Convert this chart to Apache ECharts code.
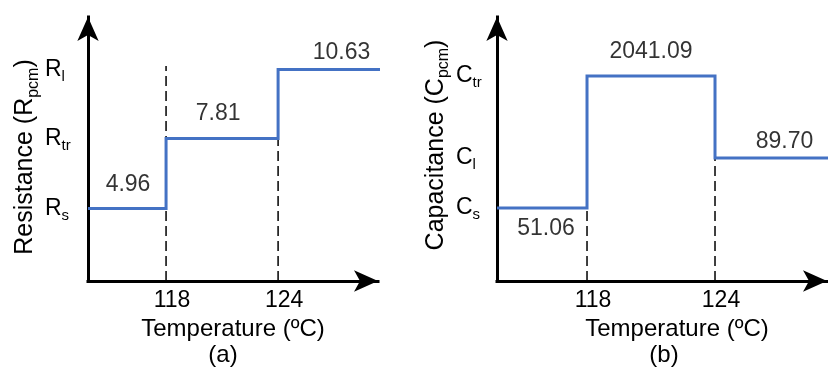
<!DOCTYPE html>
<html><head><meta charset="utf-8">
<script src="https://cdn.jsdelivr.net/npm/echarts@6/dist/echarts.min.js"></script>
<style>html,body{margin:0;padding:0;background:#fff}#c{width:828px;height:372px}</style>
</head><body><div id="c"></div>
<script>
// ---------- Panel (a): resistance ----------
const resTransitionTemps = [118, 124];
const resValues = [4.96, 7.81, 10.63];
const resValueLabels = ['4.96', '7.81', '10.63'];
const resLevelSubs = ['s', 'tr', 'l'];
const resDashTops = [10.77, 7.81];
const resLineEnd = 129.62;
// ---------- Panel (b): capacitance (schematic levels, not to scale) ----------
const capTransitionTemps = [118, 124];
const capValues = [51.06, 2041.09, 89.70];
const capValueLabels = ['51.06', '2041.09', '89.70'];
const capLevels = [4.98, 10.36, 7.02];
const capLevelSubs = ['s', 'tr', 'l'];
const capDashTops = [10.57, 7.02];
const capLineEnd = 130.5;
const tickLabels = ['118', '124'];

const FONT = '"Liberation Sans", Arial, sans-serif';
const BLUE = '#4472C4';
const RANGE_A = {xmin: 113.82, xmax: 129.35, ymin: 2, ymax: 12.77};
const RANGE_B = {xmin: 113.78, xmax: 129.25, ymin: 2, ymax: 12.77};

function stepPoints(xMin, xEnd, temps, levels) {
  const pts = [[xMin, levels[0]]];
  temps.forEach((t, i) => { pts.push([t, levels[i]]); pts.push([t, levels[i + 1]]); });
  pts.push([xEnd, levels[levels.length - 1]]);
  return pts;
}
function segMids(xMin, xEnd, temps) {
  const s = [xMin].concat(temps), e = temps.concat([xEnd]);
  return s.map((v, i) => (v + e[i]) / 2);
}
const rich = {
  m: {fontSize: 23, lineHeight: 23, fontFamily: FONT, color: '#000', verticalAlign: 'top'},
  s: {fontSize: 15, lineHeight: 15, fontFamily: FONT, color: '#000', verticalAlign: 'top', padding: [11, 0, 0, 0]}
};
const nameRich = {
  m: {fontSize: 25, lineHeight: 25, fontFamily: FONT, color: '#000', verticalAlign: 'top'},
  s: {fontSize: 16, lineHeight: 16, fontFamily: FONT, color: '#000', verticalAlign: 'top', padding: [12, 0, 0, 0]}
};
const axisLineStyle = {show: true, symbol: ['none', 'arrow'], symbolSize: [16, 24],
  lineStyle: {color: '#000', width: 3, cap: 'square'}};

function xAxisFor(gridIndex, range, temps, nameShift) {
  return {
    type: 'value', gridIndex, min: range.xmin, max: range.xmax,
    axisLine: axisLineStyle, axisTick: {show: false}, splitLine: {show: false},
    axisLabel: {customValues: temps, formatter: v => tickLabels[temps.indexOf(v)],
      fontSize: 23, fontFamily: FONT, color: '#000', margin: 8, padding: [0, 0, 0, 12]},
    name: 'Temperature (ºC)', nameLocation: 'middle', nameGap: 32,
    nameTextStyle: {fontSize: 24, fontFamily: FONT, color: '#000', padding: nameShift}
  };
}
function yAxisFor(gridIndex, range, levels, subs, letter, nameText, margin, namePad) {
  return {
    type: 'value', gridIndex, min: range.ymin, max: range.ymax,
    axisLine: axisLineStyle, axisTick: {show: false}, splitLine: {show: false},
    axisLabel: {customValues: levels.slice(), align: 'left', margin,
      formatter: v => '{m|' + letter + '}{s|' + subs[levels.indexOf(v)] + '}', rich},
    name: '{m|' + nameText + ' (' + letter + '}{s|pcm}{m|)}', nameLocation: 'middle', nameGap: 48,
    nameTextStyle: {rich: nameRich, padding: namePad}
  };
}
function dashSeries(xi, temps, tops, ymin) {
  return temps.map((t, i) => ({
    type: 'line', xAxisIndex: xi, yAxisIndex: xi, data: [[t, ymin], [t, tops[i]]],
    symbol: 'none', silent: true, z: 1, clip: false,
    lineStyle: {color: '#000', width: 1.5, type: [10, 5]}
  }));
}
function labelSeries(xi, mids, levels, texts, cfg) {
  return {
    type: 'scatter', xAxisIndex: xi, yAxisIndex: xi, symbolSize: 0, z: 5, clip: false, silent: true,
    data: mids.map((x, i) => ({value: [x, levels[i]], label: {show: true, formatter: texts[i],
      position: cfg[i].pos, distance: cfg[i].d, offset: [cfg[i].dx, 0],
      fontSize: 23, fontFamily: FONT, color: '#000'}}))
  };
}
const resLabelCfg = [{pos: 'top', d: 12, dx: 1}, {pos: 'top', d: 13, dx: -4}, {pos: 'top', d: 5, dx: 11}];
const capLabelCfg = [{pos: 'bottom', d: 9, dx: 4}, {pos: 'top', d: 13, dx: 0}, {pos: 'top', d: 5, dx: 13}];
const capTxt = {fontSize: 24, fontFamily: FONT, fill: '#000', align: 'center', verticalAlign: 'middle'};

const chart = echarts.init(document.getElementById('c'), null, {renderer: 'canvas'});
chart.setOption({
  backgroundColor: '#fff',
  animation: false,
  grid: [
    {left: 88, top: 17, width: 290, height: 264},
    {left: 497, top: 17, width: 330, height: 264}
  ],
  xAxis: [xAxisFor(0, RANGE_A, resTransitionTemps, [0, 0, 0, 0]), xAxisFor(1, RANGE_B, capTransitionTemps, [0, 0, 0, 30])],
  yAxis: [yAxisFor(0, RANGE_A, resValues, resLevelSubs, 'R', 'Resistance', 43, [0, 16, 0, 0]),
          yAxisFor(1, RANGE_B, capLevels, capLevelSubs, 'C', 'Capacitance', 41, [0, 0, 0, 8])],
  graphic: [
    {type: 'text', x: 223, y: 355, style: Object.assign({text: '(a)'}, capTxt)},
    {type: 'text', x: 664, y: 355, style: Object.assign({text: '(b)'}, capTxt)}
  ],
  series: [
    ...dashSeries(0, resTransitionTemps, resDashTops, RANGE_A.ymin),
    ...dashSeries(1, capTransitionTemps, capDashTops, RANGE_B.ymin),
    {type: 'line', xAxisIndex: 0, yAxisIndex: 0, symbol: 'none', z: 3, clip: false,
     data: stepPoints(RANGE_A.xmin, resLineEnd, resTransitionTemps, resValues),
     lineStyle: {color: BLUE, width: 3, join: 'miter'}},
    {type: 'line', xAxisIndex: 1, yAxisIndex: 1, symbol: 'none', z: 3, clip: false,
     data: stepPoints(RANGE_B.xmin, capLineEnd, capTransitionTemps, capLevels),
     lineStyle: {color: BLUE, width: 3, join: 'miter'}},
    labelSeries(0, segMids(RANGE_A.xmin, resLineEnd, resTransitionTemps), resValues, resValueLabels, resLabelCfg),
    labelSeries(1, segMids(RANGE_B.xmin, 129.3, capTransitionTemps), capLevels, capValueLabels, capLabelCfg)
  ]
});
</script></body></html>
